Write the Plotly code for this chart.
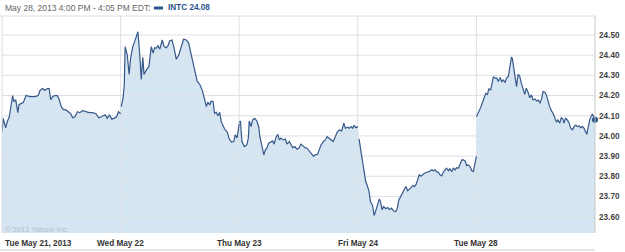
import plotly.graph_objects as go

# ---- data: INTC intraday prices, minutes after the 9:30 open ----
day_labels = ["Tue May 21, 2013", "Wed May 22", "Thu May 23", "Fri May 24", "Tue May 28"]

d1_min = [0, 4, 12, 17, 24, 30, 35, 39, 45, 52, 56, 62, 70, 79, 92, 109, 119, 125, 134, 141, 147, 155, 160, 167,
          174, 182, 188, 195, 202, 209, 218, 226, 232, 240, 248, 256, 265, 276, 287, 298, 309, 318, 328, 339, 346,
          353, 361, 368, 377, 383, 390]
d1_px = [24.02, 24.087, 24.04, 24.07, 24.095, 24.145, 24.20, 24.17, 24.18, 24.115, 24.155, 24.16, 24.165, 24.20,
         24.195, 24.195, 24.20, 24.225, 24.235, 24.225, 24.233, 24.235, 24.18, 24.195, 24.20, 24.20, 24.18, 24.145,
         24.13, 24.13, 24.12, 24.11, 24.09, 24.095, 24.12, 24.115, 24.125, 24.12, 24.115, 24.115, 24.11, 24.09,
         24.095, 24.105, 24.087, 24.105, 24.083, 24.087, 24.095, 24.12, 24.11]

d2_min = [2, 8, 12, 15, 22, 28, 33, 40, 46, 52, 57, 63, 68, 73, 77, 85, 93, 101, 107, 112, 117, 123, 129, 137, 143,
          150, 156, 161, 169, 176, 183, 191, 200, 207, 216, 224, 230, 238, 246, 252, 260, 268, 274, 282, 287, 293,
          298, 304, 309, 315, 320, 326, 331, 337, 342, 351, 356, 364, 372, 377, 383, 390]
d2_px = [24.145, 24.187, 24.25, 24.442, 24.40, 24.305, 24.385, 24.442, 24.467, 24.49, 24.516, 24.40, 24.28, 24.39,
         24.305, 24.327, 24.343, 24.442, 24.41, 24.437, 24.434, 24.447, 24.43, 24.475, 24.442, 24.437, 24.447,
         24.47, 24.475, 24.434, 24.38, 24.40, 24.45, 24.479, 24.475, 24.46, 24.417, 24.368, 24.318, 24.27, 24.256,
         24.228, 24.195, 24.145, 24.167, 24.153, 24.173, 24.17, 24.112, 24.117, 24.10, 24.117, 24.07, 24.054,
         24.034, 24.018, 23.989, 23.969, 23.972, 24.005, 23.99, 24.06]

d3_min = [0, 4, 9, 17, 25, 30, 33, 39, 44, 51, 58, 64, 68, 75, 81, 86, 91, 97, 105, 110, 115, 121, 127, 132, 137,
          145, 152, 157, 165, 170, 176, 183, 190, 196, 203, 209, 216, 223, 230, 238, 244, 250, 258, 263, 269, 277,
          283, 289, 294, 302, 309, 316, 322, 329, 337, 344, 349, 357, 362, 368, 373, 378, 384, 390]
d3_px = [24.065, 24.074, 23.972, 23.947, 23.955, 23.989, 24.074, 24.046, 24.079, 24.087, 24.074, 24.046, 23.996,
         23.939, 23.906, 23.931, 23.939, 23.964, 23.972, 23.975, 23.959, 23.992, 24.008, 23.98, 23.989, 23.98,
         23.984, 23.959, 23.972, 23.955, 23.942, 23.947, 23.934, 23.939, 23.959, 23.952, 23.942, 23.939, 23.926,
         23.914, 23.90, 23.906, 23.909, 23.931, 23.955, 23.972, 23.98, 23.996, 23.989, 23.98, 23.972, 23.996,
         24.018, 24.03, 24.025, 24.063, 24.038, 24.043, 24.038, 24.046, 24.038, 24.051, 24.041, 24.046]

d4_min = [4, 11, 16, 21, 26, 31, 37, 42, 48, 54, 60, 65, 71, 75, 80, 85, 92, 98, 105, 111, 118, 125, 130, 135, 142,
          148, 153, 158, 164, 169, 175, 181, 186, 192, 197, 202, 208, 213, 219, 227, 234, 243, 248, 254, 259, 265,
          270, 276, 281, 287, 292, 298, 303, 309, 314, 320, 325, 331, 336, 342, 347, 353, 358, 363, 369, 375, 380,
          385, 390]
d4_px = [23.985, 23.922, 23.865, 23.823, 23.774, 23.754, 23.724, 23.672, 23.658, 23.605, 23.634, 23.662, 23.688,
         23.672, 23.634, 23.65, 23.639, 23.645, 23.634, 23.642, 23.628, 23.625, 23.642, 23.683, 23.703, 23.721,
         23.728, 23.749, 23.728, 23.738, 23.744, 23.754, 23.749, 23.761, 23.782, 23.807, 23.80, 23.807, 23.815,
         23.82, 23.823, 23.832, 23.827, 23.832, 23.823, 23.82, 23.807, 23.802, 23.82, 23.832, 23.84, 23.827,
         23.837, 23.823, 23.84, 23.832, 23.843, 23.84, 23.86, 23.881, 23.881, 23.876, 23.853, 23.856, 23.848,
         23.827, 23.823, 23.856, 23.898]

d5_min = [0, 5, 9, 14, 19, 25, 31, 36, 41, 47, 52, 56, 61, 67, 72, 78, 83, 88, 94, 100, 105, 110, 115, 118, 124,
          129, 132, 137, 142, 148, 153, 159, 164, 170, 175, 181, 186, 193, 198, 204, 209, 215, 219, 225, 230, 236,
          241, 247, 252, 258, 263, 268, 274, 279, 284, 288, 293, 299, 305, 310, 316, 321, 327, 332, 338, 343, 349,
          354, 360, 363, 369, 374, 381, 387, 390]
d5_px = [24.095, 24.11, 24.129, 24.14, 24.162, 24.183, 24.211, 24.203, 24.233, 24.228, 24.266, 24.294, 24.286,
         24.286, 24.269, 24.29, 24.269, 24.277, 24.266, 24.289, 24.294, 24.335, 24.388, 24.385, 24.318, 24.269,
         24.244, 24.305, 24.298, 24.26, 24.239, 24.206, 24.236, 24.216, 24.19, 24.203, 24.178, 24.183, 24.173,
         24.178, 24.162, 24.187, 24.22, 24.216, 24.203, 24.162, 24.145, 24.124, 24.112, 24.09, 24.068, 24.079,
         24.063, 24.09, 24.084, 24.063, 24.087, 24.079, 24.063, 24.038, 24.03, 24.046, 24.054, 24.046, 24.049,
         24.041, 24.046, 24.038, 24.018, 24.008, 24.054, 24.087, 24.107, 24.095, 24.08]

y_ticks = [23.60, 23.70, 23.80, 23.90, 24.00, 24.10, 24.20, 24.30, 24.40, 24.50]
header_text = "May 28, 2013 4:00 PM - 4:05 PM EDT:"
legend_text = "INTC 24.08"
copyright_text = "© 2013 Yahoo! Inc."

SESSION = 390.0
days_min = [d1_min, d2_min, d3_min, d4_min, d5_min]
days_px = [d1_px, d2_px, d3_px, d4_px, d5_px]
xs, ys = [], []          # continuous (for the area)
lx, ly = [], []          # broken between sessions (for the line)
for i, (mins, pxs) in enumerate(zip(days_min, days_px)):
    if i > 0:
        lx.append(None)
        ly.append(None)
    for m, p in zip(mins, pxs):
        xs.append(i + m / SESSION)
        ys.append(p)
        lx.append(i + m / SESSION)
        ly.append(p)

Y_RANGE = [23.519, 24.594]
X_RANGE = [0, len(day_labels)]

LINE = "#36598a"
FILL = "#d6e5f2"
GRID = "#dde1e5"

fig = go.Figure()
# area fill (no outline)
fig.add_trace(go.Scatter(x=xs, y=ys, mode="lines", line=dict(width=0, color=FILL),
                         fill="tozeroy", fillcolor=FILL, hoverinfo="skip", showlegend=False))
# grid lines, drawn above the fill but below the price line
gx, gy = [], []
for t in y_ticks:
    gx += [X_RANGE[0], X_RANGE[1], None]
    gy += [t, t, None]
for d in range(1, len(day_labels)):
    gx += [d, d, None]
    gy += [Y_RANGE[0], Y_RANGE[1], None]
fig.add_trace(go.Scatter(x=gx, y=gy, mode="lines", line=dict(width=1, color=GRID),
                         hoverinfo="skip", showlegend=False))
# price line
fig.add_trace(go.Scatter(x=lx, y=ly, mode="lines", line=dict(width=1.2, color=LINE),
                         connectgaps=False, hoverinfo="skip", showlegend=False))
# last-price marker
fig.add_trace(go.Scatter(x=[xs[-1]], y=[ys[-1]], mode="markers",
                         marker=dict(size=6, color="#264d80"), cliponaxis=False,
                         hoverinfo="skip", showlegend=False))

PH = 252 - 16 - 19  # plot height in px
annotations = []
for i, lab in enumerate(day_labels):
    annotations.append(dict(x=i, y=-10.5 / PH, xref="x", yref="paper", text="<b>" + lab + "</b>",
                            showarrow=False, xanchor="left" if i == 0 else "center", yanchor="middle",
                            xshift=1 if i == 0 else 0,
                            font=dict(family="Liberation Sans, Arial", size=8.2, color="#333333")))
annotations.append(dict(x=0, y=1 + 8 / PH, xref="paper", yref="paper", text=header_text, showarrow=False,
                        xanchor="left", yanchor="middle", xshift=1,
                        font=dict(family="Liberation Sans, Arial", size=8.5, color="#666666")))
annotations.append(dict(x=164 / 593, y=1 + 8 / PH, xref="paper", yref="paper", text="<b>" + legend_text + "</b>",
                        showarrow=False, xanchor="left", yanchor="middle",
                        font=dict(family="Liberation Sans, Arial", size=8.2, color="#2a5290")))
annotations.append(dict(x=0, y=4 / PH, xref="paper", yref="paper", text=copyright_text, showarrow=False,
                        xanchor="left", yanchor="middle", xshift=1,
                        font=dict(family="Liberation Sans, Arial", size=7.5, color="#b3c0cc")))

shapes = [
    # legend swatch
    dict(type="rect", xref="paper", yref="paper", x0=152 / 593, x1=161 / 593,
         y0=1 + 6.5 / PH, y1=1 + 9.5 / PH, fillcolor="#2a5290", line=dict(width=0)),
    # frame: top, left, right
    dict(type="line", xref="paper", yref="paper", x0=-2 / 593, x1=1, y0=1, y1=1, line=dict(color="#dcdcdc", width=1)),
    dict(type="line", xref="paper", yref="paper", x0=0, x1=0, y0=0, y1=1, line=dict(color="#dcdcdc", width=1)),
    dict(type="line", xref="paper", yref="paper", x0=1, x1=1, y0=0, y1=1, line=dict(color="#c8c8c8", width=1)),
    # bottom separator under date labels
    dict(type="line", xref="paper", yref="paper", x0=-2 / 593, x1=1, y0=-17 / PH, y1=-17 / PH,
         line=dict(color="#dddddd", width=1.5)),
]

fig.update_layout(
    width=625, height=252,
    margin=dict(l=2, r=30, t=16, b=19),
    paper_bgcolor="white", plot_bgcolor="white",
    annotations=annotations, shapes=shapes,
    xaxis=dict(range=X_RANGE, showgrid=False, zeroline=False, showticklabels=False, fixedrange=True),
    yaxis=dict(range=Y_RANGE, side="right", showgrid=False, zeroline=False, tickvals=y_ticks,
               ticktext=["<b>%.2f</b>" % t for t in y_ticks], ticks="", ticklabelstandoff=3,
               tickfont=dict(family="Liberation Sans, Arial", size=8.2, color="#444444")),
    hovermode=False,
)

fig.write_html("out.html")
